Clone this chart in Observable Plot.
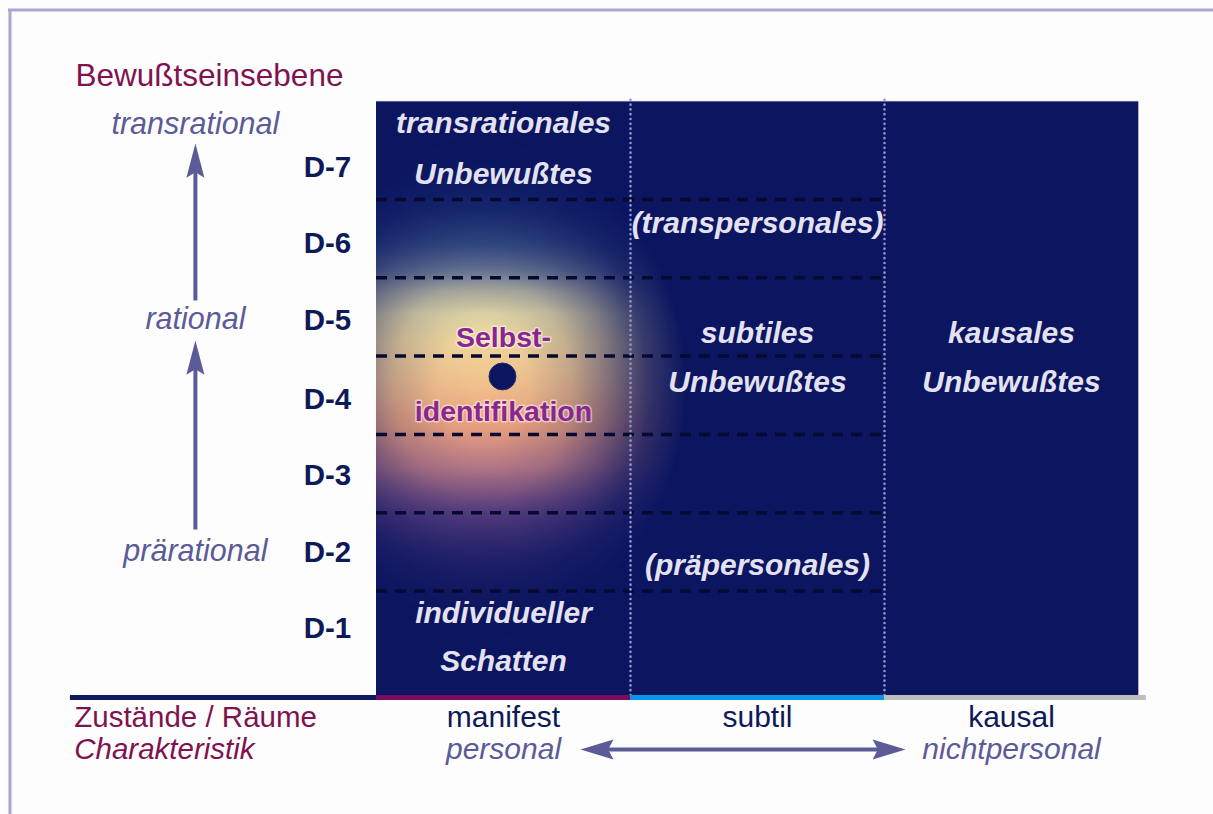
<!DOCTYPE html>
<html>
<head>
<meta charset="utf-8">
<script src="https://cdn.jsdelivr.net/npm/d3@7"></script>
<script src="https://cdn.jsdelivr.net/npm/@observablehq/plot@0.6"></script>
<style>
  html, body { margin: 0; padding: 0; background: #fdfdfd; overflow: hidden; }
  svg { display: block; }
</style>
</head>
<body>
<div id="chart"></div>
<script>
// ---------- data ----------
const levelLabels = ["D-1", "D-2", "D-3", "D-4", "D-5", "D-6", "D-7"];
const levelPos    = [1.02, 1.99, 2.97, 3.95, 4.95, 5.94, 6.91];
const boundaries  = [1.5, 2.5, 3.5, 4.5, 5.5, 6.5];

const columns     = ["manifest", "subtil", "kausal"];
const colStart    = [0, 1, 2];
const colEnd      = [1, 2, 3];
const colCenter   = [0.5, 1.5, 2.5];
const colColors   = ["#7b0a63", "#0a96e8", "#bebebe"];
const dividers    = [1, 2];

const panelTop = 7.752, panelBottom = 0.165, axisY = 0.14;
const leftAxisStart = -1.205, rightAxisEnd = 3.031;

const consciousness = [
  {text: "transrational", y: 7.458},
  {text: "rational",      y: 4.971},
  {text: "prärational",   y: 2.004}
];
const consciousnessX = -0.713;
const upArrows = [
  {from: 5.21, to: 7.215},
  {from: 2.285, to: 4.70}
];

const regionTexts = [
  {text: "transrationales", col: 0, y: 7.471},
  {text: "Unbewußtes",      col: 0, y: 6.826},
  {text: "individueller",   col: 0, y: 1.215},
  {text: "Schatten",        col: 0, y: 0.60},
  {text: "(transpersonales)", col: 1, y: 6.194},
  {text: "subtiles",        col: 1, y: 4.795},
  {text: "Unbewußtes",      col: 1, y: 4.159},
  {text: "(präpersonales)", col: 1, y: 1.826},
  {text: "kausales",        col: 2, y: 4.795},
  {text: "Unbewußtes",      col: 2, y: 4.159}
];
const selfTexts = [
  {text: "Selbst-",        y: 4.731},
  {text: "identifikation", y: 3.784}
];
const selfPoint = {x: 0.496, y: 4.24};
const glow = {x: 0.42, y: 4.1, top: 7.0, bottom: 1.38};

const characteristics = [
  {text: "personal",      col: 0},
  {text: "nichtpersonal", col: 2}
];
const charArrow = {x1: 0.803, x2: 2.083};
const row1Y = -0.112, row2Y = -0.524;
const leftLabelX = -1.19;
const titleLabel = {text: "Bewußtseinsebene", x: -1.185, y: 8.084};
const statesLabel = "Zustände / Räume";
const characteristicLabel = "Charakteristik";
const frameLine = {x: -1.443, y: 8.92};

// ---------- styles ----------
const NAVY = "#0b1560";
const NAVY_TEXT = "#0e1a58";
const MAGENTA = "#80134f";
const LAVENDER = "#5b5b98";
const WHITE_TEXT = "#e4e2f0";
const FONT = "Liberation Sans, Arial, Helvetica, sans-serif";

function head(dir, wf, lf) {
  return {
    draw(ctx, size) {
      const r = Math.sqrt(size / Math.PI);
      const w = r * wf, L = r * lf, n = L * 0.84;
      const pts = dir === "up"   ? [[0,0],[w,L],[0,n],[-w,L]]
                : dir === "left" ? [[0,0],[L,w],[n,0],[L,-w]]
                :                  [[0,0],[-L,w],[-n,0],[-L,-w]];
      ctx.moveTo(pts[0][0], pts[0][1]);
      for (let i = 1; i < pts.length; i++) ctx.lineTo(pts[i][0], pts[i][1]);
      ctx.closePath();
    }
  };
}

const xDomain = [-376 / 254, 837 / 254];
const yDomain = [-1.3544, 9.0415];

const plot = Plot.plot({
  width: 1213,
  height: 814,
  margin: 0,
  x: {domain: xDomain, axis: null},
  y: {domain: yDomain, axis: null},
  color: {type: "identity"},
  style: {background: "#fdfdfd", fontFamily: FONT, overflow: "visible"},
  marks: [
    // outer frame lines
    Plot.ruleX([frameLine.x], {y1: yDomain[0], y2: frameLine.y, stroke: "#aba7d3", strokeWidth: 3}),
    Plot.ruleY([frameLine.y], {x1: frameLine.x - 0.006, x2: xDomain[1], stroke: "#aba7d3", strokeWidth: 3}),

    // dark panel
    Plot.rect([0], {x1: colStart[0], x2: colEnd[2], y1: panelBottom, y2: panelTop, fill: NAVY}),
    // glow (gradient applied afterwards)
    Plot.rect([0], {x1: colStart[0], x2: colEnd[2], y1: panelBottom, y2: panelTop, fill: "url(#glowFill)"}),
    Plot.ruleY([panelTop], {x1: colStart[0], x2: colEnd[2], stroke: "#7c7cb4", strokeWidth: 1, strokeOpacity: 0.8}),
    Plot.ruleX([colEnd[2]], {y1: panelBottom, y2: panelTop, stroke: "#7c7cb4", strokeWidth: 1, strokeOpacity: 0.6}),

    // level boundaries
    Plot.ruleY(boundaries, {x1: colStart[0], x2: colEnd[1], stroke: "#060a30", strokeWidth: 3.5, strokeDasharray: "11,8"}),
    // column dividers
    Plot.ruleX(dividers, {y1: panelBottom, y2: panelTop + 0.04, stroke: "#9494c8", strokeWidth: 2.6, strokeDasharray: "0.1,4.7", strokeLinecap: "round"}),

    // self point
    Plot.dot([selfPoint], {x: "x", y: "y", r: 13.5, fill: NAVY, stroke: "#2a2f70", strokeWidth: 1}),

    // region texts
    Plot.text(regionTexts, {x: d => colCenter[d.col], y: "y", text: "text", fill: WHITE_TEXT,
      fontSize: 30, fontWeight: "bold", fontStyle: "italic"}),
    Plot.text(selfTexts, {x: colCenter[0], y: "y", text: "text", fill: "#8b2690",
      stroke: "#ffffff", strokeWidth: 3, strokeOpacity: 0.5, paintOrder: "stroke",
      fontSize: 28.5, fontWeight: "bold"}),

    // level labels
    Plot.text(levelLabels, {x: -0.193, y: (d, i) => levelPos[i], text: d => d, fill: NAVY_TEXT,
      fontSize: 29.5, fontWeight: "bold"}),

    // consciousness axis
    Plot.text(consciousness, {x: consciousnessX, y: "y", text: "text", fill: LAVENDER, fontSize: 30.5, fontStyle: "italic"}),
    Plot.arrow(upArrows, {x1: consciousnessX, x2: consciousnessX, y1: "from", y2: "to", stroke: LAVENDER,
      strokeWidth: 4, headLength: 0, insetEnd: 16, strokeLinecap: "butt"}),
    Plot.dot(upArrows, {x: consciousnessX, y: "to", r: 9, symbol: head("up", 1, 3.8), fill: LAVENDER, stroke: "none"}),

    Plot.text([titleLabel], {x: "x", y: "y", text: "text", fill: MAGENTA, fontSize: 31.5, textAnchor: "start"}),

    // bottom axis segments
    Plot.ruleY([0], {x1: leftAxisStart, x2: colStart[0], y: axisY, stroke: "#0e1a5e", strokeWidth: 5}),
    Plot.ruleY(columns, {x1: (d, i) => colStart[i], x2: (d, i) => i === 2 ? rightAxisEnd : colEnd[i],
      y: axisY, stroke: (d, i) => colColors[i], strokeWidth: 5}),

    // bottom labels
    Plot.text([statesLabel], {x: leftLabelX, y: row1Y, text: d => d, fill: MAGENTA, fontSize: 29.5, textAnchor: "start"}),
    Plot.text([characteristicLabel], {x: leftLabelX, y: row2Y, text: d => d, fill: MAGENTA, fontSize: 29.5,
      textAnchor: "start", fontStyle: "italic"}),
    Plot.text(columns, {x: (d, i) => colCenter[i], y: row1Y, text: d => d, fill: NAVY_TEXT, fontSize: 30}),
    Plot.text(characteristics, {x: d => colCenter[d.col], y: row2Y, text: "text", fill: LAVENDER,
      fontSize: 30, fontStyle: "italic"}),
    Plot.arrow([charArrow], {x1: "x1", x2: "x2", y1: row2Y, y2: row2Y, stroke: LAVENDER, strokeWidth: 4,
      headLength: 0, insetStart: 16, insetEnd: 16, strokeLinecap: "butt"}),
    Plot.dot([charArrow.x1], {x: d => d, y: row2Y, r: 10, symbol: head("left", 1, 3.3), fill: LAVENDER, stroke: "none"}),
    Plot.dot([charArrow.x2], {x: d => d, y: row2Y, r: 10, symbol: head("right", 1, 3.3), fill: LAVENDER, stroke: "none"})
  ]
});

// ---------- glow gradient via scales ----------
const SX = plot.scale("x"), SY = plot.scale("y");
const px = SX.apply ? v => SX.apply(v) : d3.scaleLinear(SX.domain, SX.range);
const py = SY.apply ? v => SY.apply(v) : d3.scaleLinear(SY.domain, SY.range);
const NS = "http://www.w3.org/2000/svg";
function el(name, attrs, parent) {
  const e = document.createElementNS(NS, name);
  for (const k in attrs) e.setAttribute(k, attrs[k]);
  if (parent) parent.appendChild(e);
  return e;
}
const defs = el("defs", {});
plot.insertBefore(defs, plot.firstChild);

const lin = el("linearGradient", {id: "glowFill", gradientUnits: "userSpaceOnUse",
  x1: 0, x2: 0, y1: py(glow.top), y2: py(glow.bottom)}, defs);
[
  [0.00, "#1c2e70"], [0.11, "#2a4682"], [0.19, "#4a6892"], [0.25, "#8290a0"],
  [0.30, "#c8c6a8"], [0.35, "#f0e4aa"], [0.41, "#f6dc9e"], [0.50, "#f3c48e"],
  [0.60, "#efa47f"], [0.70, "#c8828a"], [0.80, "#744c88"], [0.90, "#463478"], [1.00, "#2a2468"]
].forEach(([o, c]) => el("stop", {offset: o, "stop-color": c}, lin));

const cx = px(glow.x), cy = py(glow.y);
const rad = el("radialGradient", {id: "glowMaskGrad", gradientUnits: "userSpaceOnUse", cx: 0, cy: 0, r: 1,
  gradientTransform: `translate(${cx},${cy}) scale(205,250)`}, defs);
[[0, "#fff"], [0.22, "#f6f6f6"], [0.44, "#c8c8c8"], [0.63, "#7e7e7e"], [0.81, "#303030"], [1, "#000"]]
  .forEach(([o, c]) => el("stop", {offset: o, "stop-color": c}, rad));
const mask = el("mask", {id: "glowMask", maskUnits: "userSpaceOnUse", x: 0, y: 0, width: 1213, height: 814}, defs);
el("rect", {x: 0, y: 0, width: 1213, height: 814, fill: "url(#glowMaskGrad)"}, mask);

const glowG = plot.querySelector('[fill="url(#glowFill)"]');
if (glowG) glowG.setAttribute("mask", "url(#glowMask)");

document.getElementById("chart").appendChild(plot);
</script>
</body>
</html>
